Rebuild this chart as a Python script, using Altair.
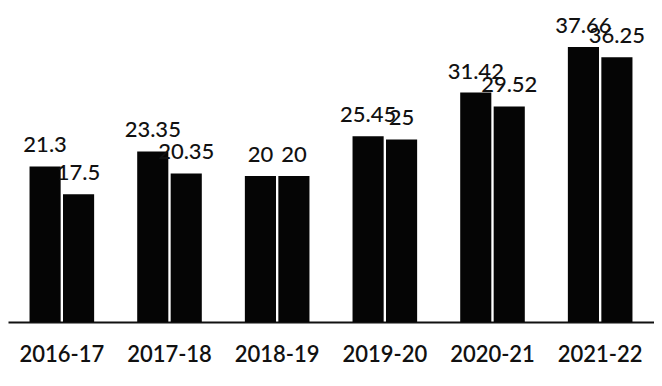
import altair as alt
import pandas as pd

years = ["2016-17", "2017-18", "2018-19", "2019-20", "2020-21", "2021-22"]
series_a = [21.3, 23.35, 20, 25.45, 31.42, 37.66]
series_b = [17.5, 20.35, 20, 25, 29.52, 36.25]
label_a = ["21.3", "23.35", "20", "25.45", "31.42", "37.66"]
label_b = ["17.5", "20.35", "20", "25", "29.52", "36.25"]

rows = []
for y, a, b, la, lb in zip(years, series_a, series_b, label_a, label_b):
    rows.append({"year": y, "series": "A", "value": a, "label": la})
    rows.append({"year": y, "series": "B", "value": b, "label": lb})
df = pd.DataFrame(rows)

x = alt.X("year:N", sort=years,
          scale=alt.Scale(paddingInner=0.4, paddingOuter=0.2),
          axis=alt.Axis(title=None, labelAngle=0, labelFont="Lato", labelFontSize=22,
                        labelFontWeight=600, labelColor="#111111", labelPadding=22,
                        ticks=False, domainColor="#111111", domainWidth=2, grid=False))
xo = alt.XOffset("series:N", scale=alt.Scale(paddingInner=0.07))
yenc = alt.Y("value:Q", scale=alt.Scale(domain=[0, 43]), axis=None)

base = alt.Chart(df).encode(x=x, xOffset=xo, y=yenc)
bars = base.mark_bar(color="#050505")
text = base.mark_text(baseline="bottom", dy=-9, font="Lato", fontSize=22,
                      fontWeight=500, color="#111111").encode(text="label:N")

chart = (bars + text).properties(
    width=646, height=314, padding=0, background="white",
    autosize=alt.AutoSizeParams(type="pad")
).configure_view(stroke=None, strokeWidth=0)

chart.save("out.html", embed_options={"renderer": "svg", "actions": False})
